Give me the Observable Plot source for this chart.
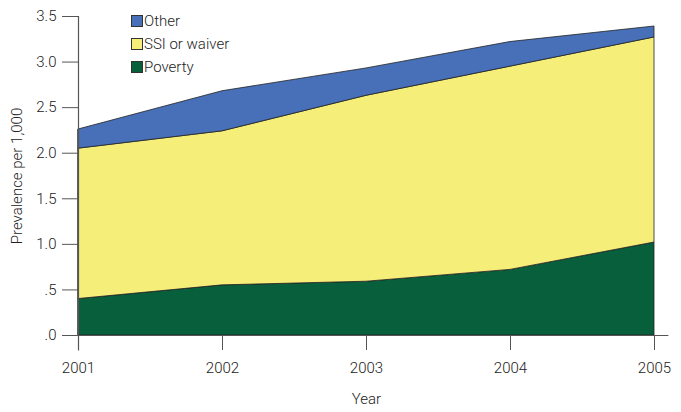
<!DOCTYPE html>
<html>
<head>
<meta charset="utf-8">
<script src="https://cdn.jsdelivr.net/npm/d3@7"></script>
<script src="https://cdn.jsdelivr.net/npm/@observablehq/plot@0.6"></script>
<style>
  html, body { margin: 0; padding: 0; background: #fff; }
  #wrap { position: relative; width: 681px; height: 412px; font-family: Roboto, "Liberation Sans", sans-serif; }
  #legend { position: absolute; left: 131px; top: 9px; font-size: 15px; font-weight: 300; color: #222; }
  .item { display: flex; align-items: center; height: 23px; }
  .sw { width: 12px; height: 12px; border: 1px solid #333; box-sizing: border-box; margin-right: 1px; }
</style>
</head>
<body>
<div id="wrap"><div id="legend"></div></div>
<script>
const years = [2001, 2002, 2003, 2004, 2005];
const poverty = [0.40, 0.55, 0.59, 0.72, 1.02];
const ssiWaiver = [1.65, 1.69, 2.04, 2.23, 2.25];
const other = [0.21, 0.44, 0.30, 0.27, 0.12];
const seriesNames = ["Poverty", "SSI or waiver", "Other"];
const seriesColors = ["#075f3b", "#f5ef7a", "#4770b8"];
const yTicks = [0, 0.5, 1.0, 1.5, 2.0, 2.5, 3.0, 3.5];
const yTickLabels = [".0", ".5", "1.0", "1.5", "2.0", "2.5", "3.0", "3.5"];

const seriesValues = [poverty, ssiWaiver, other];
const data = [];
seriesNames.forEach((name, i) => {
  years.forEach((yr, j) => data.push({year: yr, series: name, value: seriesValues[i][j]}));
});

const plot = Plot.plot({
  width: 681,
  height: 412,
  marginLeft: 78,
  marginRight: 27,
  marginTop: 16,
  marginBottom: 77,
  style: {fontFamily: "Roboto, 'Liberation Sans', sans-serif", fontSize: "15px", fontWeight: 300, color: "#222"},
  x: {domain: [2001, 2005]},
  y: {domain: [0, 3.5]},
  color: {domain: seriesNames, range: seriesColors},
  marks: [
    Plot.areaY(data, {x: "year", y: "value", fill: "series", z: "series", order: seriesNames, stroke: "#222", strokeWidth: 0.8}),
    Plot.axisY({ticks: yTicks, tickFormat: (d, i) => yTickLabels[yTicks.indexOf(d)], tickSize: 16, tickPadding: 6, stroke: "#555", label: "Prevalence per 1,000", labelAnchor: "center", labelArrow: "none", labelOffset: 67}),
    Plot.axisX({ticks: years, tickFormat: d => String(d), tickSize: 15, tickPadding: 12, stroke: "#555", label: "Year", labelAnchor: "center", labelArrow: "none", labelOffset: 68}),
    Plot.ruleX([2001], {y1: -0.17, y2: 3.5, stroke: "#555", strokeWidth: 1.2}),
    Plot.ruleY([0], {x1: 2001, x2: 2005.1, stroke: "#555", strokeWidth: 1.2})
  ]
});
document.getElementById("wrap").prepend(plot);
plot.style.display = "block";

const legend = document.getElementById("legend");
[2, 1, 0].forEach(i => {
  const it = document.createElement("div");
  it.className = "item";
  const sw = document.createElement("span");
  sw.className = "sw";
  sw.style.background = seriesColors[i];
  const tx = document.createElement("span");
  tx.textContent = seriesNames[i];
  it.append(sw, tx);
  legend.append(it);
});
</script>
</body>
</html>
